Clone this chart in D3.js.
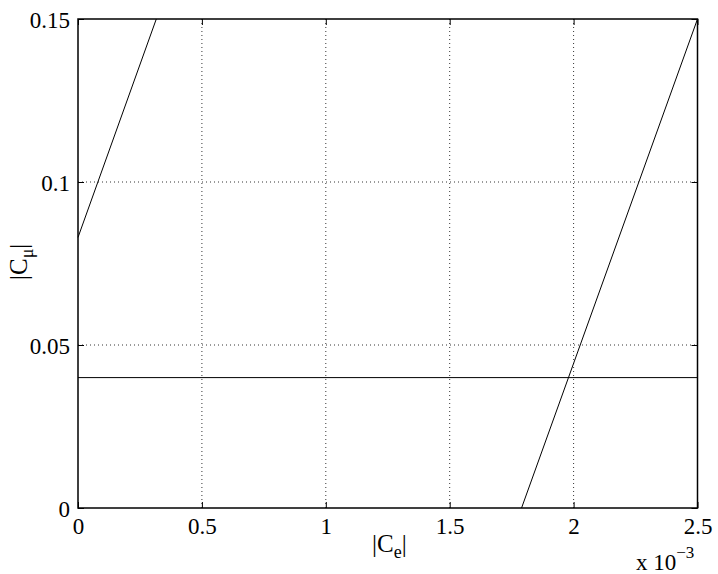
<!DOCTYPE html>
<html><head><meta charset="utf-8">
<script src="https://cdn.jsdelivr.net/npm/d3@7"></script>
<style>body{margin:0;background:#fff}svg{display:block}</style>
</head><body>
<svg id="c" width="718" height="574"></svg>
<script>
const xTicks = [0, 0.0005, 0.001, 0.0015, 0.002, 0.0025];
const xTickLabels = ["0", "0.5", "1", "1.5", "2", "2.5"];
const yTicks = [0, 0.05, 0.1, 0.15];
const yTickLabels = ["0", "0.05", "0.1", "0.15"];
const line1X = [0, 0.000316];
const line1Y = [0.083, 0.15];
const line2X = [0.00179, 0.0025];
const line2Y = [0, 0.15];
const line3X = [0, 0.0025];
const line3Y = [0.04, 0.04];

const L = 78, R = 697.5, T = 19, B = 508;
const FONT = "Liberation Serif";
const svg = d3.select("#c");
const x = d3.scaleLinear().domain([0, 0.0025]).range([L, R]);
const y = d3.scaleLinear().domain([0, 0.15]).range([B, T]);

// grid
const g = svg.append("g");
g.selectAll(".gx").data(xTicks.slice(1, -1)).join("line")
  .attr("x1", d => x(d)).attr("x2", d => x(d)).attr("y1", T).attr("y2", B)
  .attr("stroke", "#000").attr("stroke-width", 0.8).attr("stroke-dasharray", "1,3");
g.selectAll(".gy").data(yTicks.slice(1, -1)).join("line")
  .attr("y1", d => y(d)).attr("y2", d => y(d)).attr("x1", L).attr("x2", R)
  .attr("stroke", "#000").attr("stroke-width", 0.8).attr("stroke-dasharray", "1,3");

// data lines
const line = d3.line().x(d => x(d[0])).y(d => y(d[1]));
[[line1X, line1Y], [line2X, line2Y], [line3X, line3Y]].forEach(([xs, ys]) => {
  svg.append("path").datum(xs.map((v, i) => [v, ys[i]])).attr("d", line)
    .attr("fill", "none").attr("stroke", "#000").attr("stroke-width", 1);
});

// axes with inward ticks
const ax = d3.axisBottom(x).tickValues(xTicks).tickFormat((d, i) => xTickLabels[i]).tickSizeInner(-6).tickSizeOuter(0).tickPadding(12);
const axB = svg.append("g").attr("transform", `translate(0,${B})`).call(ax);
const axT = svg.append("g").attr("transform", `translate(0,${T})`).call(d3.axisTop(x).tickValues(xTicks).tickFormat("").tickSizeInner(-6).tickSizeOuter(0));
const ay = d3.axisLeft(y).tickValues(yTicks).tickFormat((d, i) => yTickLabels[i]).tickSizeInner(-6).tickSizeOuter(0).tickPadding(8);
const axL = svg.append("g").attr("transform", `translate(${L},0)`).call(ay);
const axR = svg.append("g").attr("transform", `translate(${R},0)`).call(d3.axisRight(y).tickValues(yTicks).tickFormat("").tickSizeInner(-6).tickSizeOuter(0));
[axB, axT, axL, axR].forEach(a => {
  a.attr("font-family", FONT).attr("font-size", 23);
  a.select(".domain").remove();
  a.selectAll("line").attr("stroke", "#000").attr("stroke-width", 1);
  a.selectAll("text").attr("fill", "#000");
});
axB.selectAll("text").attr("dy", null).attr("y", 26);
axL.selectAll("text").attr("dy", null).attr("y", 8).attr("x", -8);

// box
svg.append("rect").attr("x", L).attr("y", T).attr("width", R - L).attr("height", B - T)
  .attr("fill", "none").attr("stroke", "#000").attr("stroke-width", 1.5);

// labels
const xl = svg.append("text").attr("x", 372).attr("y", 552).attr("font-family", FONT).attr("font-size", 25).attr("fill", "#000");
xl.append("tspan").text("|C");
xl.append("tspan").attr("dy", 6).attr("font-size", 18).text("e");
xl.append("tspan").attr("dy", -6).text("|");

const yl = svg.append("text").attr("transform", "translate(27,280) rotate(-90)").attr("font-family", FONT).attr("font-size", 25).attr("fill", "#000");
yl.append("tspan").text("|C");
yl.append("tspan").attr("dy", 6).attr("font-size", 18).text("μ");
yl.append("tspan").attr("dy", -6).text("|");

const ex = svg.append("text").attr("x", 636).attr("y", 570).attr("font-family", FONT).attr("font-size", 23).attr("fill", "#000");
ex.append("tspan").text("x 10");
ex.append("tspan").attr("dy", -12).attr("font-size", 17).text("−3");
</script>
</body></html>
